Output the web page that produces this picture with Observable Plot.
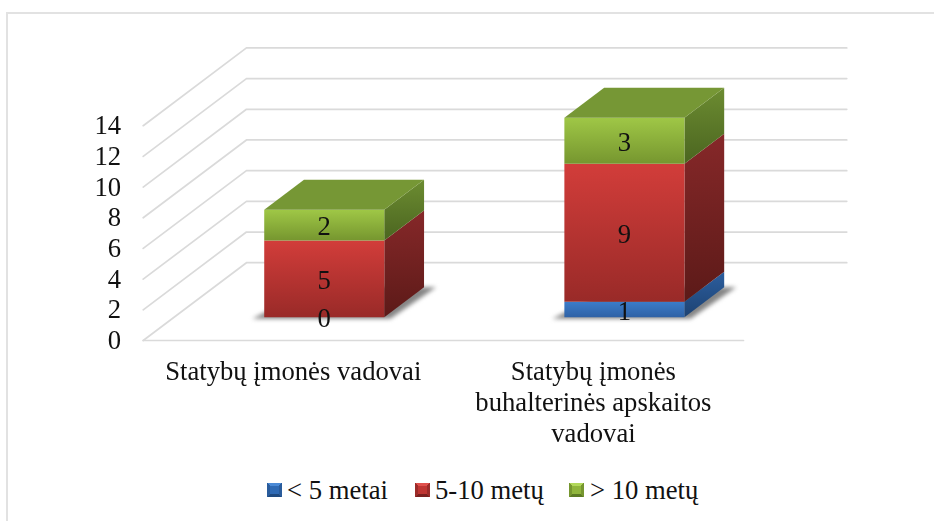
<!DOCTYPE html>
<html><head><meta charset="utf-8">
<script src="https://cdn.jsdelivr.net/npm/d3@7"></script>
<script src="https://cdn.jsdelivr.net/npm/@observablehq/plot@0.6"></script>
<style>
html,body{margin:0;padding:0;background:#fff;width:934px;height:521px;overflow:hidden}
#frame{position:absolute;left:6px;top:12px;width:940px;height:520px;border-left:2px solid #e2e2e2;border-top:2px solid #e2e2e2;box-sizing:border-box}
#chart{position:absolute;left:0;top:0}
#legend{position:absolute;left:0;top:470px;width:934px;height:40px;font:26.67px "Liberation Serif","Times New Roman",serif;color:#111}
#legend span{position:absolute;white-space:pre;line-height:40px;top:0}
#legend i{position:absolute;top:13px;width:15px;height:14px;display:block}
</style></head><body>
<div id="frame"></div><div id="chart"></div><div id="legend"></div>
<script>
const categories = ["Statybų įmonės vadovai", "Statybų įmonės\nbuhalterinės apskaitos\nvadovai"];
const seriesNames = ["< 5 metai", "5-10 metų", "> 10 metų"];
const under5 = [0, 1];
const from5to10 = [5, 9];
const over10 = [2, 3];
const yTicks = [0, 2, 4, 6, 8, 10, 12, 14];

// oblique depth, in data units of the x and y scales
const depthX = 0.344, depthY = 5.07;
const zFront = 0.3, zBack = 0.685, halfBar = 0.2;
const P = (x, y, z) => ({x: x + z * depthX, y: y + z * depthY});

const palette = [
  {id: "b", front: ["#3c7cc9", "#2f62a6"], side: ["#2c5e9e", "#1d4272"], top: ["#2f62a6", "#2f62a6"], swatch: ["#4b8ad6", "#2a5c9c", "#1f4a80", "#2f6ab4"]},
  {id: "r", front: ["#d23d3a", "#992a28"], side: ["#862829", "#5c1a18"], top: ["#8f2a2a", "#8f2a2a"], swatch: ["#e0504c", "#9c2b29", "#7a201f", "#bf3532"]},
  {id: "g", front: ["#9fc746", "#76962f"], side: ["#6c8c31", "#4b6520"], top: ["#769735", "#769735"], swatch: ["#b2d85a", "#76962f", "#5c7a24", "#90b53c"]}
];
const stacks = [under5, from5to10, over10];
const FONT = '"Liberation Serif","Times New Roman",serif';

function face(points, fill, opts = {}) {
  return Plot.line(points, {x: "x", y: "y", fill, stroke: "none", curve: "linear-closed", ...opts});
}
const marks = [];
marks.push(() => {
  const ns = "http://www.w3.org/2000/svg";
  const defs = document.createElementNS(ns, "defs");
  const grad = (id, c0, c1) => {
    const g = document.createElementNS(ns, "linearGradient");
    g.setAttribute("id", id); g.setAttribute("x1", 0); g.setAttribute("x2", 0); g.setAttribute("y1", 0); g.setAttribute("y2", 1);
    [[0, c0], [1, c1]].forEach(([o, c]) => {
      const s = document.createElementNS(ns, "stop");
      s.setAttribute("offset", o); s.setAttribute("stop-color", c); g.appendChild(s);
    });
    defs.appendChild(g);
  };
  palette.forEach(p => { grad(p.id + "f", ...p.front); grad(p.id + "s", ...p.side); grad(p.id + "t", ...p.top); });
  const gg = document.createElementNS(ns, "g"); gg.appendChild(defs);
  return gg;
});
yTicks.forEach(t => {
  marks.push(Plot.line([P(0, t, 0), P(0, t, 1), P(2, t, 1)], {x: "x", y: "y", stroke: "#dadada", strokeWidth: 1.7}));
  if (t === 0) marks.push(Plot.line([P(0, t, 0), P(2, t, 0)], {x: "x", y: "y", stroke: "#dadada", strokeWidth: 1.7}));
});
categories.forEach((c, i) => {
  const x0 = i + 0.5 - halfBar, x1 = i + 0.5 + halfBar;
  const pad = 0.04;
  marks.push(face([P(x0 - pad, -0.1, zFront), P(x1 + pad * 0.5, -0.1, zFront), P(x1 + pad, 0, zBack), P(x0 + pad, 0, zBack)], "#858585", {imageFilter: "blur(2px)"}));
  let base = 0;
  stacks.forEach((s, k) => {
    const v = s[i], top = base + v, id = palette[k].id;
    if (v > 0) {
      marks.push(face([P(x1, base, zFront), P(x1, base, zBack), P(x1, top, zBack), P(x1, top, zFront)], `url(#${id}s)`));
      marks.push(face([P(x0, base, zFront), P(x1, base, zFront), P(x1, top, zFront), P(x0, top, zFront)], `url(#${id}f)`));
    }
    base = top;
  });
  marks.push(face([P(x0, base, zFront), P(x1, base, zFront), P(x1, base, zBack), P(x0, base, zBack)], `url(#gt)`));
  let b = 0;
  stacks.forEach(s => {
    const p = P(i + 0.5, b + s[i] / 2, zFront);
    marks.push(Plot.text([p], {x: "x", y: "y", text: () => String(s[i]), fontSize: 26.67, fontFamily: FONT, fill: "#111", dy: 1.5}));
    b += s[i];
  });
});
marks.push(Plot.text(categories, {
  x: (d, i) => i + 0.5, y: () => 0, text: d => d, fontSize: 26.67, fontFamily: FONT, lineHeight: 1.15,
  lineAnchor: "top", dy: 18, fill: "#111", textAnchor: "middle"
}));
marks.push(Plot.axisY({ticks: yTicks, tickSize: 0, tickPadding: 22, fontSize: 26.67, fontFamily: FONT, tickFormat: d => String(d), label: null, color: "#111"}));

const chart = Plot.plot({
  width: 934, height: 470, marginLeft: 142.7, marginRight: 10, marginTop: 10, marginBottom: 10,
  style: {background: "transparent", overflow: "visible", filter: "blur(0.35px)"},
  x: {type: "linear", domain: [0, 2], range: [142.7, 743], axis: null},
  y: {type: "linear", domain: [0, 14], range: [340, 125.2], axis: null},
  marks
});
document.getElementById("chart").appendChild(chart);

const lg = document.getElementById("legend");
const lx = [[267, 287], [415, 435], [569, 590]];
seriesNames.forEach((n, k) => {
  const i = document.createElement("i");
  const [t, c, d, m] = palette[k].swatch;
  i.style.left = lx[k][0] + "px";
  i.style.background = `linear-gradient(${m},${m}) center / 9px 8px no-repeat, conic-gradient(from -45deg, ${t} 0 90deg, ${c} 90deg 180deg, ${d} 180deg 270deg, ${c} 270deg 360deg)`;
  lg.appendChild(i);
  const s = document.createElement("span");
  s.style.left = lx[k][1] + "px"; s.textContent = n;
  lg.appendChild(s);
});
</script></body></html>
